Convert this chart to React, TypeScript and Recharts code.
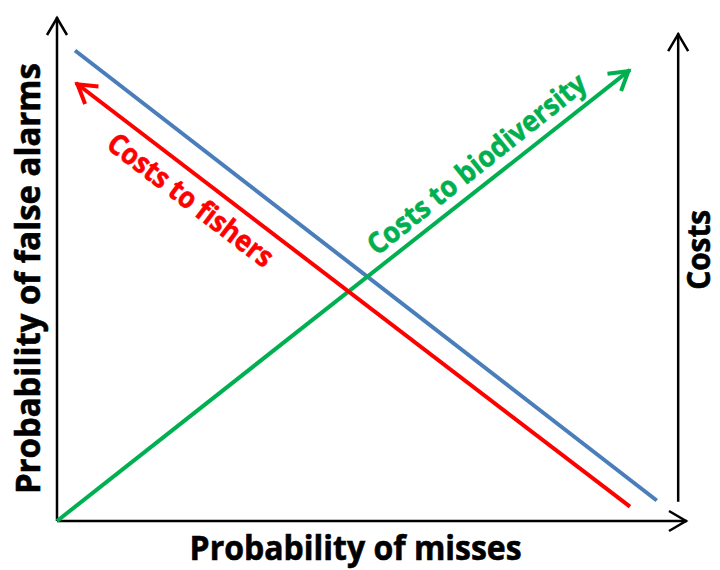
import React from 'react';
import { LineChart, Line, XAxis, YAxis, ReferenceDot } from 'recharts';

// Axis lines (data units: 0..100 on both axes)
const leftAxisPoints = [{ x: 0, y: 0 }, { x: 0, y: 100 }];
const bottomAxisPoints = [{ x: 0, y: 0 }, { x: 100, y: 0 }];
const rightAxisPoints = [{ x: 98.6, y: 3.8 }, { x: 98.6, y: 96.8 }];

// Series
const blueLine = [{ x: 2.86, y: 93.35 }, { x: 95.2, y: 4.07 }];
const fishersLine = [{ x: 90.95, y: 2.84 }, { x: 3.0, y: 86.9 }];
const biodiversityLine = [{ x: 0, y: 0 }, { x: 90.95, y: 89.5 }];

// Texts
const labelTexts = ['Probability of false alarms', 'Probability of misses', 'Costs', 'Costs to fishers', 'Costs to biodiversity'];
const labelAnchors = [
  { x: -2.7, y: 48.1 },
  { x: 47.4, y: -7.75 },
  { x: 103.7, y: 53.8 },
  { x: 20.25, y: 62.1 },
  { x: 67.6, y: 69.3 },
];
const labelStyles = [
  { angle: -90, size: 34, color: '#000000', length: 431 },
  { angle: 0, size: 34, color: '#000000', length: 332 },
  { angle: -90, size: 32, color: '#000000', length: 80 },
  { angle: 37.4, size: 29, color: '#FF0000', length: 200 },
  { angle: -38.6, size: 29, color: '#00B050', length: 271 },
];

const makeTextShape = (i: number) => (props: any) => {
  const cx = props.cx;
  const cy = props.cy;
  const st = labelStyles[i];
  return (
    <text
      x={cx}
      y={cy}
      transform={`rotate(${st.angle} ${cx} ${cy})`}
      textAnchor="middle"
      fontFamily="'Open Sans', 'DejaVu Sans', sans-serif"
      fontWeight={700}
      fontSize={st.size}
      fill={st.color}
      stroke={st.color}
      strokeWidth={0.6}
      textLength={st.length}
      lengthAdjust="spacingAndGlyphs"
    >
      {labelTexts[i]}
    </text>
  );
};

const Markers = () => (
  <svg width={0} height={0} style={{ position: 'absolute', left: 0, top: 0 }}>
    <defs>
      <marker id="arrBlack" viewBox="-30 -20 40 40" refX={0} refY={0} markerWidth={40} markerHeight={40} markerUnits="userSpaceOnUse" orient="auto">
        <path d="M-18,-10 L-1,0 L-18,10" fill="none" stroke="#000" strokeWidth={2.5} />
      </marker>
      <marker id="arrRed" viewBox="-30 -20 40 40" refX={0} refY={0} markerWidth={40} markerHeight={40} markerUnits="userSpaceOnUse" orient="auto">
        <path d="M-20,-11 L-2,0 L-20,11" fill="none" stroke="#FF0000" strokeWidth={4} />
      </marker>
      <marker id="arrGreen" viewBox="-30 -20 40 40" refX={0} refY={0} markerWidth={40} markerHeight={40} markerUnits="userSpaceOnUse" orient="auto">
        <path d="M-20,-11 L-2,0 L-20,11" fill="none" stroke="#00B050" strokeWidth={4} />
      </marker>
    </defs>
  </svg>
);

export default function App() {
  return (
    <div style={{ position: 'absolute', left: 0, top: 0, width: 720, height: 570, background: '#ffffff' }}>
      <Markers />
      <LineChart width={720} height={570} margin={{ top: 17, right: 33, bottom: 49, left: 57 }}>
        <XAxis type="number" dataKey="x" domain={[0, 100]} hide />
        <YAxis type="number" dataKey="y" domain={[0, 100]} hide />
        <Line data={leftAxisPoints} dataKey="y" stroke="#000" strokeWidth={2.5} dot={false} activeDot={false} isAnimationActive={false} markerEnd="url(#arrBlack)" />
        <Line data={bottomAxisPoints} dataKey="y" stroke="#000" strokeWidth={2.5} dot={false} activeDot={false} isAnimationActive={false} markerEnd="url(#arrBlack)" />
        <Line data={rightAxisPoints} dataKey="y" stroke="#000" strokeWidth={2.5} dot={false} activeDot={false} isAnimationActive={false} markerEnd="url(#arrBlack)" />
        <Line data={blueLine} dataKey="y" stroke="#4A7EBB" strokeWidth={4} dot={false} activeDot={false} isAnimationActive={false} />
        <Line data={biodiversityLine} dataKey="y" stroke="#00B050" strokeWidth={4} dot={false} activeDot={false} isAnimationActive={false} markerEnd="url(#arrGreen)" />
        <Line data={fishersLine} dataKey="y" stroke="#FF0000" strokeWidth={4} dot={false} activeDot={false} isAnimationActive={false} markerEnd="url(#arrRed)" />
        {labelAnchors.map((a, i) => (
          <ReferenceDot key={i} x={a.x} y={a.y} r={1} ifOverflow="visible" shape={makeTextShape(i)} />
        ))}
      </LineChart>
    </div>
  );
}
